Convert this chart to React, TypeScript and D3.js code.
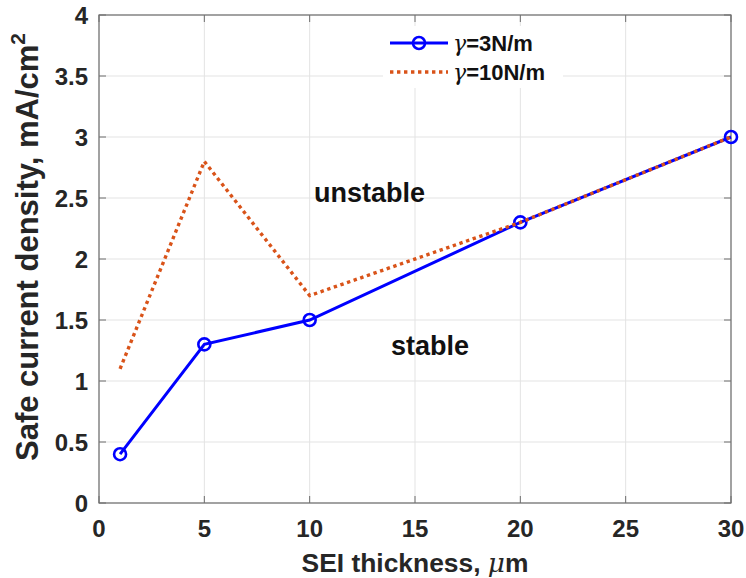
import React, { useEffect, useRef } from "react";
import * as d3 from "d3";

const thickness = [1, 5, 10, 20, 30];
const gamma3 = [0.4, 1.3, 1.5, 2.3, 3.0];
const gamma10 = [1.1, 2.8, 1.7, 2.3, 3.0];
const xTicks = [0, 5, 10, 15, 20, 25, 30];
const yTicks = [0, 0.5, 1, 1.5, 2, 2.5, 3, 3.5, 4];
const legendLabels = ["=3N/m", "=10N/m"];

const W = 746, H = 578;
const M = { left: 99, right: 15, top: 15, bottom: 75 };
const FONT = "'Liberation Sans', Arial, sans-serif";

export default function App() {
  const ref = useRef<SVGSVGElement>(null);
  useEffect(() => {
    const svg = d3.select(ref.current);
    svg.selectAll("*").remove();
    const x = d3.scaleLinear().domain([0, 30]).range([M.left, W - M.right]);
    const y = d3.scaleLinear().domain([0, 4]).range([H - M.bottom, M.top]);
    svg.append("rect").attr("width", W).attr("height", H).attr("fill", "#fff");

    const g = svg.append("g");
    // grid
    g.selectAll(".gx").data(xTicks).join("line")
      .attr("x1", d => x(d)).attr("x2", d => x(d))
      .attr("y1", y(0)).attr("y2", y(4))
      .attr("stroke", "#e3e3e3").attr("stroke-width", 1);
    g.selectAll(".gy").data(yTicks).join("line")
      .attr("y1", d => y(d)).attr("y2", d => y(d))
      .attr("x1", x(0)).attr("x2", x(30))
      .attr("stroke", "#e3e3e3").attr("stroke-width", 1);

    // ticks (inward)
    const tl = 7;
    xTicks.forEach(t => {
      g.append("line").attr("x1", x(t)).attr("x2", x(t)).attr("y1", y(0)).attr("y2", y(0) - tl).attr("stroke", "#6e6e6e");
      g.append("line").attr("x1", x(t)).attr("x2", x(t)).attr("y1", y(4)).attr("y2", y(4) + tl).attr("stroke", "#6e6e6e");
    });
    yTicks.forEach(t => {
      g.append("line").attr("y1", y(t)).attr("y2", y(t)).attr("x1", x(0)).attr("x2", x(0) + tl).attr("stroke", "#6e6e6e");
      g.append("line").attr("y1", y(t)).attr("y2", y(t)).attr("x1", x(30)).attr("x2", x(30) - tl).attr("stroke", "#6e6e6e");
    });
    // box
    g.append("rect").attr("x", x(0)).attr("y", y(4)).attr("width", x(30) - x(0)).attr("height", y(0) - y(4))
      .attr("fill", "none").attr("stroke", "#6e6e6e").attr("stroke-width", 1.2);

    // tick labels
    g.selectAll(".xt").data(xTicks).join("text")
      .attr("x", d => x(d)).attr("y", y(0) + 34)
      .attr("text-anchor", "middle").attr("font-family", FONT).attr("font-weight", "bold")
      .attr("font-size", 24).attr("fill", "#262626").text(d => String(d));
    g.selectAll(".yt").data(yTicks).join("text")
      .attr("x", x(0) - 11).attr("y", d => y(d) + 8.5)
      .attr("text-anchor", "end").attr("font-family", FONT).attr("font-weight", "bold")
      .attr("font-size", 24).attr("fill", "#262626").text(d => String(d));

    // axis titles
    const xt = g.append("text").attr("x", (x(0) + x(30)) / 2).attr("y", 572)
      .attr("text-anchor", "middle").attr("font-family", FONT).attr("font-weight", "bold")
      .attr("font-size", 26.4).attr("fill", "#262626");
    xt.append("tspan").text("SEI thickness, ");
    xt.append("tspan").attr("font-family", "'DejaVu Serif', 'Liberation Serif', serif").attr("font-style", "italic").attr("font-weight", "normal").text("μ");
    xt.append("tspan").text("m");

    const yt = g.append("text").attr("transform", `translate(38,247) rotate(-90)`)
      .attr("text-anchor", "middle").attr("font-family", FONT).attr("font-weight", "bold")
      .attr("font-size", 31).attr("fill", "#262626");
    yt.append("tspan").text("Safe current density, mA/cm");
    yt.append("tspan").attr("font-size", 21).attr("dy", -13).text("2");

    // lines
    const line = d3.line<number>().x((_, i) => x(thickness[i])).y(d => y(d));
    g.append("path").datum(gamma3).attr("d", line).attr("fill", "none")
      .attr("stroke", "#0000FF").attr("stroke-width", 3);
    g.selectAll(".mk").data(gamma3).join("circle")
      .attr("cx", (_, i) => x(thickness[i])).attr("cy", d => y(d)).attr("r", 6)
      .attr("fill", "none").attr("stroke", "#0000FF").attr("stroke-width", 2.6);
    g.append("path").datum(gamma10).attr("d", line).attr("fill", "none")
      .attr("stroke", "#D95319").attr("stroke-width", 3.4).attr("stroke-dasharray", "3.4 3.6");

    // annotations
    g.append("text").attr("x", 314).attr("y", 202).attr("font-family", FONT).attr("font-weight", "bold")
      .attr("font-size", 27).attr("fill", "#111").text("unstable");
    g.append("text").attr("x", 391).attr("y", 355).attr("font-family", FONT).attr("font-weight", "bold")
      .attr("font-size", 27).attr("fill", "#111").text("stable");

    // legend
    const lg = g.append("g");
    lg.append("rect").attr("x", 383).attr("y", 26).attr("width", 180).attr("height", 62).attr("fill", "#fff");
    const rows = [
      { color: "#0000FF", dash: null, marker: true, y: 43 },
      { color: "#D95319", dash: "3.4 3.6", marker: false, y: 72 },
    ];
    rows.forEach((r, i) => {
      const l = lg.append("line").attr("x1", 390).attr("x2", 448).attr("y1", r.y).attr("y2", r.y)
        .attr("stroke", r.color).attr("stroke-width", r.dash ? 3.4 : 3);
      if (r.dash) l.attr("stroke-dasharray", r.dash);
      if (r.marker) lg.append("circle").attr("cx", 419).attr("cy", r.y).attr("r", 6)
        .attr("fill", "none").attr("stroke", r.color).attr("stroke-width", 2.6);
      const t = lg.append("text").attr("x", 453).attr("y", r.y + 8).attr("font-family", FONT)
        .attr("font-weight", "bold").attr("font-size", 22).attr("fill", "#111");
      t.append("tspan").attr("font-family", "'DejaVu Serif', 'Liberation Serif', serif").attr("font-style", "italic").attr("font-weight", "normal").text("γ");
      t.append("tspan").text(legendLabels[i]);
    });
  }, []);
  return (
    <svg ref={ref} width={W} height={H} style={{ position: "absolute", left: 0, top: 0 }} />
  );
}
